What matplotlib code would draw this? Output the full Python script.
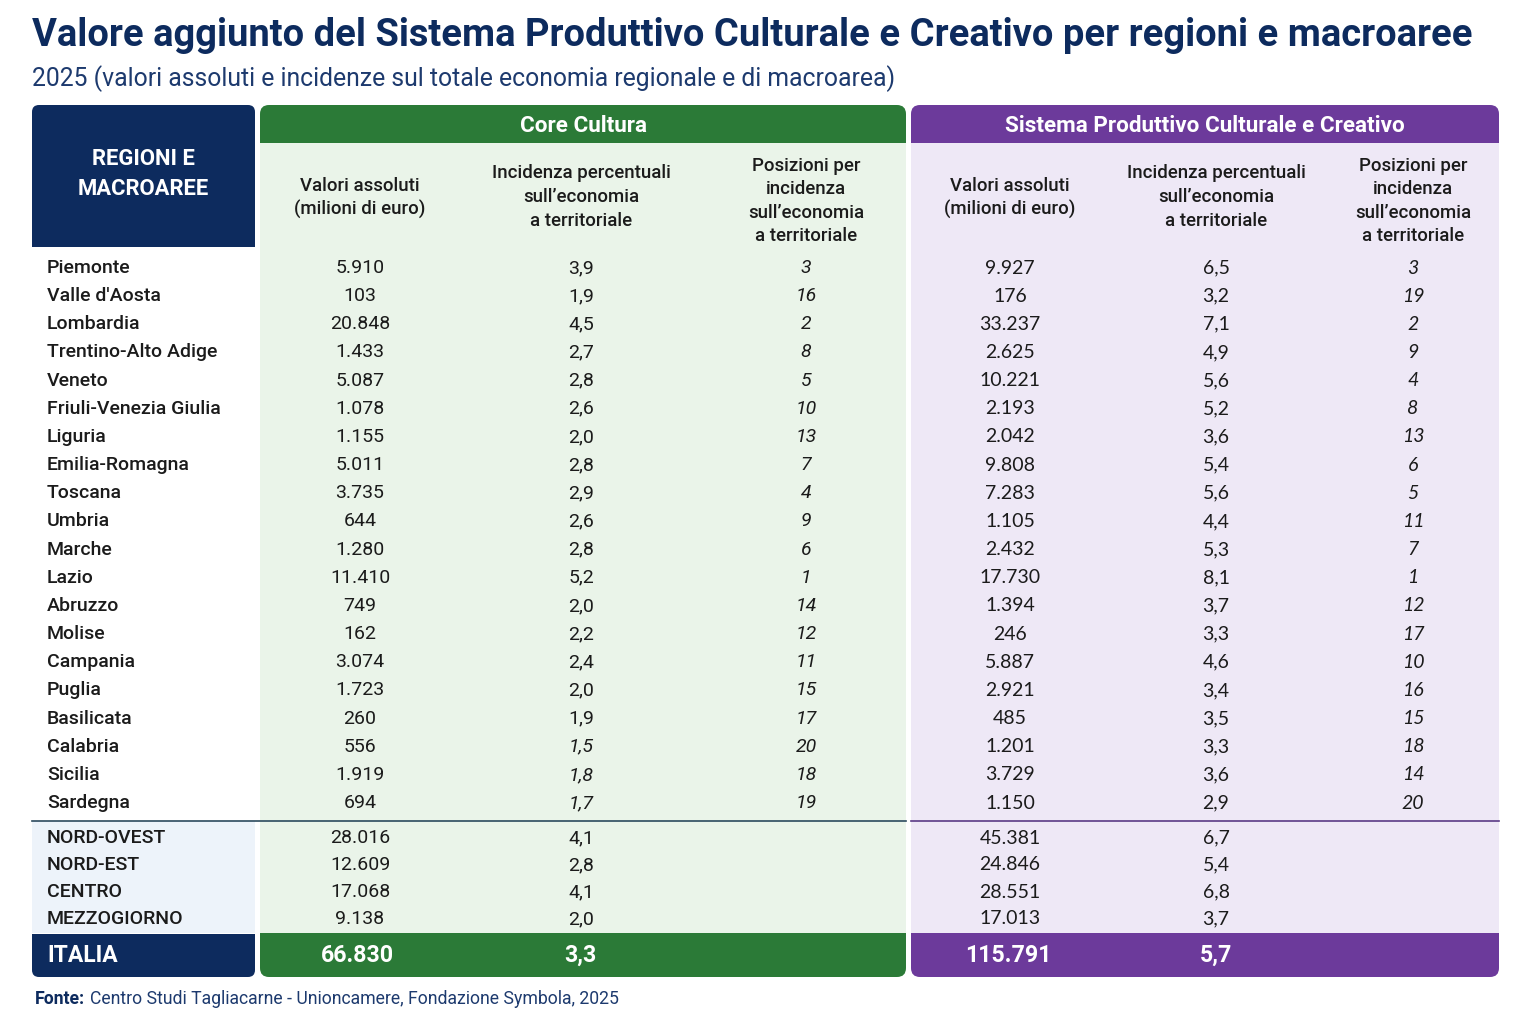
import matplotlib
matplotlib.use("Agg")
import matplotlib.pyplot as plt
from matplotlib.patches import FancyBboxPatch, Rectangle

plt.rcParams["font.family"] = ["Roboto", "DejaVu Sans"]

# --- dati ---
regions = ["Piemonte", "Valle d'Aosta", "Lombardia", "Trentino-Alto Adige", "Veneto",
           "Friuli-Venezia Giulia", "Liguria", "Emilia-Romagna", "Toscana", "Umbria",
           "Marche", "Lazio", "Abruzzo", "Molise", "Campania", "Puglia", "Basilicata",
           "Calabria", "Sicilia", "Sardegna"]
core_abs = [5910, 103, 20848, 1433, 5087, 1078, 1155, 5011, 3735, 644,
            1280, 11410, 749, 162, 3074, 1723, 260, 556, 1919, 694]
core_inc = [3.9, 1.9, 4.5, 2.7, 2.8, 2.6, 2.0, 2.8, 2.9, 2.6,
            2.8, 5.2, 2.0, 2.2, 2.4, 2.0, 1.9, 1.5, 1.8, 1.7]
core_rank = [3, 16, 2, 8, 5, 10, 13, 7, 4, 9, 6, 1, 14, 12, 11, 15, 17, 20, 18, 19]
spcc_abs = [9927, 176, 33237, 2625, 10221, 2193, 2042, 9808, 7283, 1105,
            2432, 17730, 1394, 246, 5887, 2921, 485, 1201, 3729, 1150]
spcc_inc = [6.5, 3.2, 7.1, 4.9, 5.6, 5.2, 3.6, 5.4, 5.6, 4.4,
            5.3, 8.1, 3.7, 3.3, 4.6, 3.4, 3.5, 3.3, 3.6, 2.9]
spcc_rank = [3, 19, 2, 9, 4, 8, 13, 6, 5, 11, 7, 1, 12, 17, 10, 16, 15, 18, 14, 20]

macro = ["NORD-OVEST", "NORD-EST", "CENTRO", "MEZZOGIORNO"]
macro_core_abs = [28016, 12609, 17068, 9138]
macro_core_inc = [4.1, 2.8, 4.1, 2.0]
macro_spcc_abs = [45381, 24846, 28551, 17013]
macro_spcc_inc = [6.7, 5.4, 6.8, 3.7]

italia_core = (66830, 3.3)
italia_spcc = (115791, 5.7)

col_labels = ["Valori assoluti\n(milioni di euro)",
              "Incidenza percentuali\nsull’economia\na territoriale",
              "Posizioni per\nincidenza\nsull’economia\na territoriale"]

NAVY = "#0d2b5e"
GREEN = "#2b7a37"
GREEN_L = "#eaf4e9"
PURPLE = "#6c3a9b"
PURPLE_L = "#eee8f6"
MACRO_BG = "#edf3fa"
TXT = "#1b1b1b"
LATO = ["Lato", "DejaVu Sans"]


def fmt_int(v):
    return f"{v:,}".replace(",", ".")


def fmt_dec(v):
    return f"{v:.1f}".replace(".", ",")


def fit_text(ax, x, y, s, width, size, **kw):
    # adatta la dimensione del font alla larghezza voluta (in pixel)
    t = ax.text(x, y, s, fontsize=size, **kw)
    r = ax.figure.canvas.get_renderer()
    w = t.get_window_extent(renderer=r).width
    t.set_fontsize(size * width / w)
    return t


fig = plt.figure(figsize=(15.36, 10.24), dpi=100)
ax = fig.add_axes([0, 0, 1, 1])
ax.set_xlim(0, 1536)
ax.set_ylim(1024, 0)
ax.axis("off")
fig.patch.set_facecolor("white")

# titolo
fit_text(ax, 32, 35, "Valore aggiunto del Sistema Produttivo Culturale e Creativo per regioni e macroaree",
         1440, 28, fontweight="bold", color=NAVY, va="center", ha="left")
fit_text(ax, 32, 79, "2025 (valori assoluti e incidenze sul totale economia regionale e di macroarea)",
         866, 17, color="#1d3a6e", va="center", ha="left")

# pannelli
top, head_bot, body_bot, bottom = 105, 143, 933, 977
panels = [(260, 906, GREEN, GREEN_L, "Core Cultura"),
          (911, 1499, PURPLE, PURPLE_L, "Sistema Produttivo Culturale e Creativo")]
for x0, x1, dark, light, label in panels:
    ax.add_patch(FancyBboxPatch((x0, top), x1 - x0, bottom - top,
                                boxstyle="round,pad=0,rounding_size=9",
                                fc=dark, ec="none"))
    ax.add_patch(Rectangle((x0, head_bot), x1 - x0, body_bot - head_bot, fc=light, ec="none"))
    ax.text((x0 + x1) / 2, 126, label, fontsize=16.2, fontweight="bold", color="white",
            ha="center", va="center")

# blocco sinistro
ax.add_patch(FancyBboxPatch((32, top), 223, 142, boxstyle="round,pad=0,rounding_size=7",
                            fc=NAVY, ec="none"))
ax.add_patch(Rectangle((32, 200), 223, 47, fc=NAVY, ec="none"))
ax.text(143, 174, "REGIONI E\nMACROAREE", fontsize=15.8, fontweight="bold", color="white",
        ha="center", va="center", linespacing=1.5)
ax.add_patch(Rectangle((32, 821), 223, body_bot - 821, fc=MACRO_BG, ec="none"))
ax.add_patch(FancyBboxPatch((32, body_bot + 1), 223, bottom - body_bot - 1,
                            boxstyle="round,pad=0,rounding_size=7", fc=NAVY, ec="none"))
ax.add_patch(Rectangle((32, body_bot + 1), 223, 15, fc=NAVY, ec="none"))

# intestazioni colonne
core_x = [360, 581, 806]
spcc_x = [1010, 1216, 1413]
head_y = [198, 197, 201]
for xs in (core_x, spcc_x):
    for x, y, lab in zip(xs, head_y, col_labels):
        ax.text(x, y, lab, fontsize=13.4, fontweight="medium", color=TXT,
                ha="center", va="center", linespacing=1.4)

# righe regioni
row_y0, row_dy = 268, 28.16
for i, name in enumerate(regions):
    y = row_y0 + i * row_dy
    ax.text(47, y, name, fontsize=14, fontweight="medium", color=TXT, ha="left", va="center")
    ax.text(core_x[0], y, fmt_int(core_abs[i]), fontsize=14, color=TXT, ha="center", va="center")
    ax.text(core_x[1], y, fmt_dec(core_inc[i]), fontsize=14, color=TXT, ha="center", va="center",
            style="italic" if core_inc[i] < 1.9 else "normal")
    ax.text(core_x[2], y, str(core_rank[i]), fontsize=14, color=TXT, ha="center", va="center",
            style="italic")
    ax.text(spcc_x[0], y, fmt_int(spcc_abs[i]), fontsize=14, color=TXT, ha="center", va="center",
            family=LATO)
    ax.text(spcc_x[1], y, fmt_dec(spcc_inc[i]), fontsize=14, color=TXT, ha="center", va="center",
            family=LATO)
    ax.text(spcc_x[2], y, str(spcc_rank[i]), fontsize=14, color=TXT, ha="center", va="center",
            style="italic", family=LATO)

# linee separatrici
ax.plot([32, 906], [821, 821], color="#2c4a5e", lw=1.2)
ax.plot([911, 1499], [821, 821], color="#5b3a86", lw=1.2)

# macroaree
for i, name in enumerate(macro):
    y = 838 + i * 27
    ax.text(47, y, name, fontsize=14, fontweight="medium", color=TXT, ha="left", va="center")
    ax.text(core_x[0], y, fmt_int(macro_core_abs[i]), fontsize=14, color=TXT, ha="center", va="center")
    ax.text(core_x[1], y, fmt_dec(macro_core_inc[i]), fontsize=14, color=TXT, ha="center", va="center")
    ax.text(spcc_x[0], y, fmt_int(macro_spcc_abs[i]), fontsize=14, color=TXT, ha="center",
            va="center", family=LATO)
    ax.text(spcc_x[1], y, fmt_dec(macro_spcc_inc[i]), fontsize=14, color=TXT, ha="center",
            va="center", family=LATO)

# Italia
yi = 955
ax.text(47, yi, "ITALIA", fontsize=16.5, fontweight="bold", color="white", ha="left", va="center")
ax.text(core_x[0] - 3, yi, fmt_int(italia_core[0]), fontsize=16.7, fontweight="bold", color="white",
        ha="center", va="center")
ax.text(core_x[1] - 1, yi, fmt_dec(italia_core[1]), fontsize=16.7, fontweight="bold", color="white",
        ha="center", va="center")
ax.text(spcc_x[0] - 2, yi, fmt_int(italia_spcc[0]), fontsize=16.7, fontweight="bold", color="white",
        ha="center", va="center")
ax.text(spcc_x[1], yi, fmt_dec(italia_spcc[1]), fontsize=16.7, fontweight="bold", color="white",
        ha="center", va="center")

# fonte
t = ax.text(35, 999, "Fonte:", fontsize=12.7, fontweight="bold", color=NAVY, ha="left", va="center")
fig.canvas.draw()
bb = t.get_window_extent().transformed(ax.transData.inverted())
ax.text(bb.x1 + 5, 999, "Centro Studi Tagliacarne - Unioncamere, Fondazione Symbola, 2025",
        fontsize=12.7, color="#1d3a6e", ha="left", va="center")

fig.savefig("out.png", dpi=100)
plt.close(fig)
